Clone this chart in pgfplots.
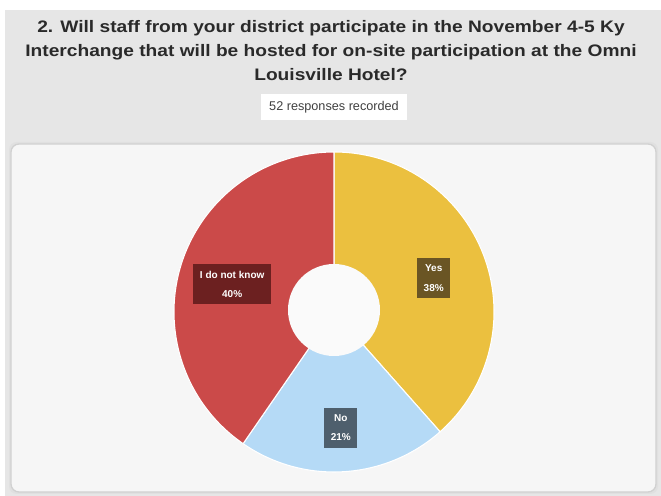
\documentclass[border=0pt]{standalone}
\usepackage{pgfplots}
\pgfplotsset{compat=1.18}
\usepackage{pgfplotstable}
\usepackage{fontspec}
\setmainfont{Liberation Sans}
\newfontfamily\titlefont[FakeStretch=1.15]{Liberation Sans}
\definecolor{bgc}{HTML}{E6E6E6}
\definecolor{panelc}{HTML}{F6F6F6}
\definecolor{titlec}{HTML}{2A2A2A}
\definecolor{yesc}{HTML}{EBC03F}
\definecolor{noc}{HTML}{B5DAF6}
\definecolor{idkc}{HTML}{CB4A49}
\definecolor{yesl}{HTML}{6A5524}
\definecolor{nol}{HTML}{4E5F6D}
\definecolor{idkl}{HTML}{6C2020}
\pgfplotstableread{
count pct
20 38
11 21
21 40
}\piedata
\begin{document}
\begin{tikzpicture}
\pgfplotstablegetelem{0}{count}\of\piedata \let\cA\pgfplotsretval
\pgfplotstablegetelem{1}{count}\of\piedata \let\cB\pgfplotsretval
\pgfplotstablegetelem{2}{count}\of\piedata \let\cC\pgfplotsretval
\pgfplotstablegetelem{0}{pct}\of\piedata \let\pA\pgfplotsretval
\pgfplotstablegetelem{1}{pct}\of\piedata \let\pB\pgfplotsretval
\pgfplotstablegetelem{2}{pct}\of\piedata \let\pC\pgfplotsretval
\pgfmathsetmacro\tot{\cA+\cB+\cC}
\pgfmathsetmacro\aA{90}
\pgfmathsetmacro\aB{\aA-360*\cA/\tot}
\pgfmathsetmacro\aC{\aB-360*\cB/\tot}
\pgfmathsetmacro\aD{\aC-360*\cC/\tot}
\pgfmathsetmacro\mA{(\aA+\aB)/2}
\pgfmathsetmacro\mB{(\aB+\aC)/2}
\pgfmathsetmacro\mC{(\aC+\aD)/2}
\begin{axis}[
  x=0.75pt, y=0.75pt,
  xmin=0, xmax=661, ymin=0, ymax=496,
  hide axis, clip=false,
  scale only axis,
]
% background
\fill[white] (axis cs:0,0) rectangle (axis cs:661,496);
\fill[bgc] (axis cs:5,0) rectangle (axis cs:661,486);
% title
\node[font=\titlefont\bfseries\fontsize{12.5}{18}\selectfont, text=titlec, align=center]
  at (axis cs:331,445) {2. Will staff from your district participate in the November 4-5 Ky\\
  Interchange that will be hosted for on-site participation at the Omni\\
  Louisville Hotel?};
\node[fill=white, text=black!75, font=\fontsize{9.5}{10}\selectfont, inner xsep=6pt, inner ysep=5pt]
  at (axis cs:334,389) {52 responses recorded};
% panel
\fill[black!12, rounded corners=6pt] (axis cs:9,2) rectangle (axis cs:658,354);
\fill[panelc, draw=black!18, line width=1pt, rounded corners=6pt] (axis cs:11,4) rectangle (axis cs:656,352);
% donut sectors
\filldraw[fill=yesc, draw=white, line width=0.8pt] (axis cs:334,184) -- ++(\aA:120pt) arc[start angle=\aA, end angle=\aB, radius=120pt] -- cycle;
\filldraw[fill=noc, draw=white, line width=0.8pt] (axis cs:334,184) -- ++(\aB:120pt) arc[start angle=\aB, end angle=\aC, radius=120pt] -- cycle;
\filldraw[fill=idkc, draw=white, line width=0.8pt] (axis cs:334,184) -- ++(\aC:120pt) arc[start angle=\aC, end angle=\aD, radius=120pt] -- cycle;
\fill[panelc!60!white] (axis cs:334,186) circle[radius=34.5pt];
% labels
\tikzset{lbl/.style={text=white, font=\bfseries\fontsize{7.5}{14.5}\selectfont, align=center, inner xsep=5pt, inner ysep=5pt, yshift=-3pt}}
\path (axis cs:334,184) ++(\mA:80pt) node[lbl, fill=yesl] {Yes\\\pA\%};
\path (axis cs:334,184) ++(\mB:84pt) node[lbl, fill=nol] {No\\\pB\%};
\path (axis cs:334,184) ++(\mC:80pt) node[lbl, fill=idkl] {I do not know\\\pC\%};
\end{axis}
\end{tikzpicture}
\end{document}
